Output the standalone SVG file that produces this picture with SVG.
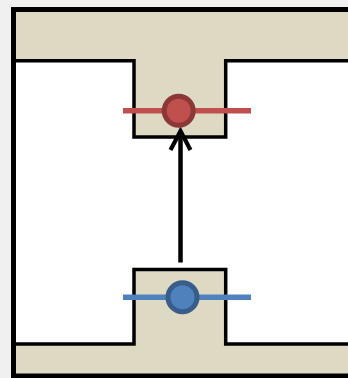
<svg xmlns="http://www.w3.org/2000/svg" width="348" height="378" viewBox="0 0 348 378">
  <style>
    .frame { fill: #ddd9c3; stroke: #000; stroke-width: 5; }
    .gap { fill: #ffffff; stroke: #000; stroke-width: 3.5; stroke-linejoin: miter; }
    .arrow { stroke: #000; stroke-width: 4.5; fill: none; }
    .redbar { stroke: #c0504d; stroke-width: 5.5; }
    .bluebar { stroke: #4f81bd; stroke-width: 5.5; }
    .reddot { fill: #c0504d; stroke: #8c3836; stroke-width: 5; }
    .bluedot { fill: #4f81bd; stroke: #385d8a; stroke-width: 5; }
  </style>
  <defs>
    <marker id="chev" markerUnits="userSpaceOnUse" viewBox="-24 -14 28 28" refX="0" refY="0" markerWidth="28" markerHeight="28" orient="auto">
      <path d="M -19,-10 L 0,0 L -19,10" fill="none" stroke="#000" stroke-width="4.2" stroke-linejoin="miter"/>
    </marker>
  </defs>
  <rect x="0" y="0" width="348" height="378" fill="#f0f0f0"/>
  <g id="frame">
    <rect class="frame" x="13.5" y="9.5" width="345" height="366.5"/>
    <path class="gap" d="M 13.5,60.7 L 134,60.7 L 134,137 L 225.7,137 L 225.7,60.7 L 352,60.7 L 352,344 L 225.7,344 L 225.7,269.5 L 134,269.5 L 134,344 L 13.5,344"/>
    <line x1="13.5" y1="9.5" x2="13.5" y2="376" stroke="#000" stroke-width="5"/>
  </g>
  <g id="connectors">
    <line class="arrow" x1="180.5" y1="262.5" x2="180.5" y2="131" marker-end="url(#chev)"/>
  </g>
  <g id="target">
    <line class="redbar" x1="123" y1="110.8" x2="251" y2="110.8"/>
    <circle class="reddot" cx="178.7" cy="110.8" r="14.5"/>
  </g>
  <g id="source">
    <line class="bluebar" x1="123" y1="297.2" x2="251" y2="297.2"/>
    <circle class="bluedot" cx="182.5" cy="297.2" r="14.5"/>
  </g>
</svg>
